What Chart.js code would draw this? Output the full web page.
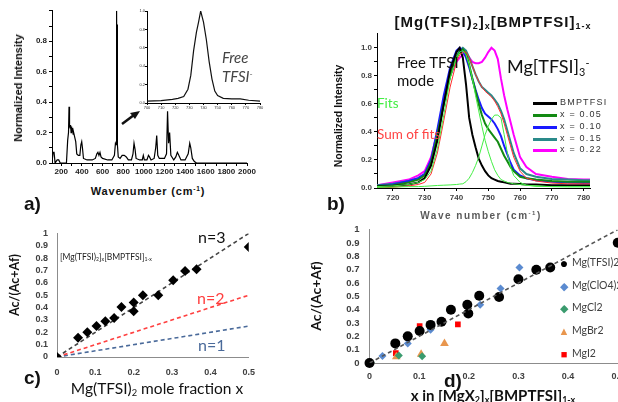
<!DOCTYPE html>
<html>
<head>
<meta charset="utf-8">
<script src="https://cdn.jsdelivr.net/npm/chart.js@4.4.0/dist/chart.umd.min.js"></script>
<style>
html, body { margin: 0; padding: 0; background: #fff; width: 618px; height: 402px; overflow: hidden; position: relative; font-family: Arial, "Liberation Sans", sans-serif; }
canvas { position: absolute; }
.t { position: absolute; white-space: nowrap; color: #111; line-height: 1; }
.c { transform: translate(-50%, -50%); }
.r { transform: translate(-50%, -50%) rotate(-90deg); }
.lato { font-family: Lato, "Open Sans", sans-serif; }
sub { font-size: 60%; vertical-align: -0.25em; }
sup { font-size: 60%; vertical-align: 0.6em; }
.pl { font: bold 19px Arial, sans-serif; }
</style>
</head>
<body>
<canvas id="chartA" width="237" height="181" style="left:22px;top:4px"></canvas>
<canvas id="chartInset" width="128" height="103" style="left:137px;top:8px"></canvas>
<canvas id="chartB" width="245" height="179" style="left:355px;top:27px"></canvas>
<canvas id="chartC" width="232" height="160" style="left:33px;top:219px"></canvas>
<canvas id="chartD" width="291" height="169" style="left:341px;top:214px"></canvas>

<!-- panel a text -->
<div class="t r" style="left:18px;top:88px;font:bold 11px Arial">Normalized Intensity</div>
<div class="t c" style="left:148px;top:191px;font:bold 11px Arial;letter-spacing:0.8px">Wavenumber (cm<sup>-1</sup>)</div>
<div class="t lato" style="left:222px;top:50px;font-style:italic;font-size:15px;color:#444">Free</div>
<div class="t lato" style="left:222px;top:69px;font-style:italic;font-size:15px;color:#444">TFSI<sup>-</sup></div>
<svg style="position:absolute;left:0;top:0" width="618" height="402">
  <line x1="122" y1="124" x2="134" y2="115" stroke="#111" stroke-width="2.5"/>
  <polygon points="140,111 130,113 135,119" fill="#111"/>
</svg>
<div class="t pl" style="left:24px;top:193px">a)</div>

<!-- panel b text -->
<div class="t c" style="left:493px;top:22px;font:bold 15px Arial;letter-spacing:1px">[Mg(TFSI)<sub>2</sub>]<sub>x</sub>[BMPTFSI]<sub>1-x</sub></div>
<div class="t r" style="left:338px;top:116px;font:bold 10.5px Arial">Normalized Intensity</div>
<div class="t c" style="left:481px;top:215px;font:bold 10px Arial;letter-spacing:1.5px;color:#5a5a5a">Wave number (cm<sup>-1</sup>)</div>
<div class="t lato" style="left:397px;top:55px;font-size:15px">Free TFSI</div>
<div class="t lato" style="left:397px;top:73px;font-size:15px">mode</div>
<div class="t lato" style="left:507px;top:57px;font-size:18px">Mg[TFSI]<sub>3</sub><sup>-</sup></div>
<div class="t lato" style="left:377px;top:97px;font-size:13.5px;color:#44ee44">Fits</div>
<div class="t lato" style="left:377px;top:128px;font-size:13.5px;color:#ff4444">Sum of fits</div>
<div id="legendB"></div>
<div class="t pl" style="left:327px;top:193px">b)</div>

<!-- panel c text -->
<div class="t r lato" style="left:15px;top:285px;font-weight:bold;font-size:12.5px">Ac/(Ac+Af)</div>
<div class="t c lato" style="left:157px;top:389px;font-size:15.5px">Mg(TFSI)<sub>2</sub> mole fraction x</div>
<div class="t lato" style="left:60px;top:253px;font-size:8.5px;color:#222">[Mg(TFSI)<sub>2</sub>]<sub>x</sub>[BMPTFSI]<sub>1-x</sub></div>
<div id="nText"></div>
<div class="t pl" style="left:24px;top:367px">c)</div>

<!-- panel d text -->
<div class="t r lato" style="left:316px;top:296px;font-weight:bold;font-size:14px">Ac/(Ac+Af)</div>
<div class="t c lato" style="left:493px;top:396px;font-weight:bold;font-size:15px">x in [MgX<sub>2</sub>]<sub>x</sub>[BMPTFSI]<sub>1-x</sub></div>
<div id="legendD"></div>
<div class="t pl" style="left:444px;top:370px">d)</div>

<script>
// ---- panel a: full spectrum of BMPTFSI ----
const specX = [110, 120, 130, 140, 160, 175, 190, 250, 262, 270, 275, 280, 285, 290, 295, 300, 305, 310, 315, 320, 330, 340, 350, 365, 380, 390, 398, 405, 415, 450, 500, 530, 545, 555, 565, 575, 585, 600, 650, 690, 715, 725, 732, 736, 740, 742, 746, 752, 770, 790, 810, 830, 850, 880, 895, 905, 915, 925, 960, 985, 995, 1005, 1030, 1045, 1055, 1070, 1100, 1115, 1125, 1135, 1150, 1200, 1220, 1230, 1240, 1250, 1262, 1290, 1310, 1325, 1340, 1360, 1400, 1430, 1445, 1455, 1470, 1490, 1510, 2000];
const specY = [0.0, 0.07, 0.07, 0.0, 0.02, 0.02, 0.0, 0.0, 0.15, 0.2, 0.37, 0.25, 0.23, 0.25, 0.2, 0.24, 0.21, 0.23, 0.19, 0.2, 0.17, 0.14, 0.06, 0.05, 0.05, 0.12, 0.14, 0.1, 0.03, 0.02, 0.02, 0.03, 0.06, 0.07, 0.05, 0.07, 0.04, 0.03, 0.02, 0.02, 0.05, 0.13, 0.12, 1.0, 0.3, 0.91, 0.12, 0.04, 0.03, 0.05, 0.05, 0.04, 0.02, 0.02, 0.06, 0.13, 0.09, 0.03, 0.02, 0.02, 0.05, 0.02, 0.02, 0.05, 0.04, 0.02, 0.03, 0.1, 0.18, 0.05, 0.03, 0.03, 0.06, 0.34, 0.13, 0.2, 0.05, 0.02, 0.04, 0.07, 0.05, 0.02, 0.02, 0.06, 0.13, 0.1, 0.03, 0.01, 0.0, 0.0];
const ticksAX = [200, 300, 400, 500, 600, 700, 800, 900, 1000, 1100, 1200, 1300, 1400, 1500, 1600, 1700, 1800, 1900, 2000];

// inset: free TFSI band
const insetX = [700, 710, 718, 722, 726, 729, 731, 733, 735, 736.5, 738, 740, 742, 744, 746, 748, 750, 754, 760, 766, 772, 780];
const insetY = [0.02, 0.025, 0.04, 0.05, 0.07, 0.15, 0.3, 0.57, 0.77, 0.88, 1.0, 0.88, 0.69, 0.45, 0.26, 0.13, 0.08, 0.05, 0.045, 0.045, 0.03, 0.02];

// ---- panel b: TFSI band vs Mg content ----
const waveB = [715, 720, 725, 728, 730, 732, 734, 736, 738, 740, 741, 742, 743, 744, 745, 746, 747, 748, 749, 750, 751, 752, 753, 754, 755, 756, 757, 758, 760, 762, 765, 770, 775, 780, 782];
const bmptfsi = [0.01, 0.015, 0.025, 0.04, 0.07, 0.16, 0.34, 0.6, 0.84, 0.97, 1.0, 0.93, 0.74, 0.5, 0.38, 0.29, 0.21, 0.16, 0.12, 0.09, 0.07, 0.06, 0.05, 0.045, 0.04, 0.035, 0.03, 0.03, 0.028, 0.025, 0.025, 0.02, 0.02, 0.02, 0.02];
const x005 = [0.015, 0.02, 0.04, 0.06, 0.09, 0.18, 0.38, 0.6, 0.8, 0.93, 0.97, 0.99, 0.96, 0.88, 0.78, 0.69, 0.6, 0.52, 0.46, 0.42, 0.39, 0.36, 0.33, 0.28, 0.23, 0.19, 0.15, 0.12, 0.08, 0.07, 0.06, 0.05, 0.045, 0.045, 0.045];
const x010 = [0.015, 0.025, 0.05, 0.07, 0.1, 0.2, 0.42, 0.66, 0.86, 0.98, 1.0, 0.98, 0.93, 0.86, 0.78, 0.7, 0.63, 0.57, 0.53, 0.51, 0.49, 0.46, 0.42, 0.37, 0.3, 0.24, 0.18, 0.13, 0.09, 0.07, 0.055, 0.045, 0.04, 0.035, 0.035];
const x015 = [0.02, 0.03, 0.05, 0.07, 0.1, 0.19, 0.38, 0.6, 0.8, 0.94, 0.98, 1.0, 0.98, 0.93, 0.87, 0.81, 0.76, 0.72, 0.7, 0.68, 0.66, 0.63, 0.6, 0.55, 0.49, 0.41, 0.33, 0.25, 0.14, 0.1, 0.08, 0.065, 0.06, 0.055, 0.055];
const x022 = [0.02, 0.04, 0.06, 0.09, 0.12, 0.22, 0.4, 0.62, 0.8, 0.9, 0.93, 0.95, 0.96, 0.93, 0.9, 0.89, 0.89, 0.9, 0.93, 0.97, 1.0, 0.98, 0.92, 0.78, 0.66, 0.56, 0.47, 0.38, 0.22, 0.15, 0.1, 0.08, 0.065, 0.06, 0.06];
const fitSum = [0.0, 0.005, 0.015, 0.025, 0.04, 0.1, 0.25, 0.48, 0.72, 0.9, 0.95, 0.97, 0.97, 0.93, 0.87, 0.81, 0.76, 0.72, 0.69, 0.67, 0.65, 0.62, 0.58, 0.53, 0.46, 0.38, 0.3, 0.22, 0.12, 0.07, 0.05, 0.035, 0.03, 0.03, 0.03];
const fitFree = [0.01, 0.015, 0.025, 0.04, 0.06, 0.12, 0.28, 0.52, 0.78, 0.93, 0.97, 0.98, 0.95, 0.88, 0.78, 0.66, 0.55, 0.44, 0.34, 0.26, 0.19, 0.13, 0.09, 0.06, 0.05, 0.04, 0.035, 0.03, 0.025, 0.02, 0.015, 0.01, 0.01, 0.01, 0.01];
const fitComplex = [0.005, 0.007, 0.01, 0.01, 0.012, 0.015, 0.018, 0.02, 0.022, 0.025, 0.028, 0.03, 0.045, 0.07, 0.11, 0.16, 0.22, 0.3, 0.38, 0.44, 0.49, 0.52, 0.52, 0.5, 0.38, 0.25, 0.15, 0.09, 0.04, 0.02, 0.012, 0.01, 0.008, 0.008, 0.008];
const ticksBX = [720, 730, 740, 750, 760, 770, 780];
const ticksBY = [0, 0.1, 0.2, 0.3, 0.4, 0.5, 0.6, 0.7, 0.8, 0.9, 1.0];
const bLabels = ['BMPTFSI', 'x = 0.05', 'x = 0.10', 'x = 0.15', 'x = 0.22'];
const bColors = ['#000000', '#138a13', '#1a1aff', '#2a8a8a', '#ff00ff'];

// ---- panel c: Ac/(Ac+Af) for Mg(TFSI)2 ----
const fracC = [0, 0.055, 0.079, 0.103, 0.126, 0.149, 0.168, 0.2, 0.2, 0.224, 0.264, 0.303, 0.334, 0.364, 0.5];
const ratioC = [0, 0.155, 0.2, 0.25, 0.29, 0.315, 0.405, 0.37, 0.44, 0.5, 0.5, 0.62, 0.695, 0.71, 0.89];
const nLabels = ['n=3', 'n=2', 'n=1'];
const nEnds = [1.0, 0.5, 0.25];   // value of each model line at x = 0.5
const nColors = ['#444444', '#ff4040', '#4a6a9a'];

// ---- panel d: several Mg salts ----
const tfsiX = [0, 0.052, 0.077, 0.101, 0.123, 0.145, 0.164, 0.197, 0.199, 0.221, 0.261, 0.3, 0.336, 0.364, 0.5];
const tfsiY = [0, 0.147, 0.2, 0.24, 0.286, 0.31, 0.4, 0.437, 0.372, 0.505, 0.495, 0.628, 0.7, 0.716, 0.902];
const clo4X = [0, 0.026, 0.077, 0.123, 0.223, 0.264, 0.302];
const clo4Y = [0, 0.053, 0.147, 0.25, 0.437, 0.558, 0.716];
const cl2X = [0.003, 0.059, 0.106];
const cl2Y = [0, 0.056, 0.05];
const br2X = [0.054, 0.104, 0.151];
const br2Y = [0.047, 0.065, 0.147];
const i2X = [0, 0.053, 0.101, 0.147, 0.178];
const i2Y = [0, 0.074, 0.277, 0.314, 0.29];
const fitLineD = [0, 1.0];   // dashed guide at x = 0 and x = 0.5
const dLabels = ['Mg(TFSI)2', 'Mg(ClO4)2', 'MgCl2', 'MgBr2', 'MgI2'];
const dColors = ['#000000', '#5b8bd0', '#3a9b6e', '#e8964e', '#ff0000'];
const dSymbols = ['\u25CF', '\u25C6', '\u25C6', '\u25B2', '\u25A0'];

Chart.defaults.font.family = 'Arial, "Liberation Sans", sans-serif';

function pts(xs, ys) {
    return xs.map((x, i) => ({ x: x, y: ys[i] }));
}

function line(xs, ys, color, width, dash) {
    return {
        data: pts(xs, ys), showLine: true, borderColor: color, borderWidth: width,
        borderDash: dash || [], pointRadius: 0, tension: 0, fill: false
    };
}

function panel(id, datasets, xScale, yScale, pad) {
    return new Chart(document.getElementById(id), {
        type: 'scatter',
        data: { datasets: datasets },
        options: {
            responsive: false,
            animation: false,
            layout: { padding: pad },
            plugins: { legend: { display: false }, tooltip: { enabled: false } },
            scales: { x: xScale, y: yScale }
        }
    });
}

// fixed tick lists (avoids chart.js dropping ticks near the bounds)
function useTicks(list) {
    return s => { s.ticks = list.map(v => ({ value: v })); };
}

// tick style for the origin-like panels a and b
function axis(opts) {
    return Object.assign({
        type: 'linear',
        grid: { display: true, drawOnChartArea: false, drawTicks: true, tickLength: 3, color: '#000' },
        border: { display: true, color: '#000', width: 1 }
    }, opts);
}

// panel a
panel('chartA', [line(specX, specY, '#000', 1.2)],
    axis({
        min: 110, max: 2000,
        afterBuildTicks: useTicks(ticksAX),
        afterFit: s => { s.height = 22; },
        ticks: { autoSkip: false, maxRotation: 0, padding: 1, color: '#222', font: { size: 8, weight: 'bold' },
            callback: v => (v % 200 === 0 ? String(v) : '') }
    }),
    axis({
        min: 0, max: 1.0,
        afterFit: s => { s.width = 30; },
        ticks: { stepSize: 0.1, autoSkip: false, padding: 2, color: '#222', font: { size: 8, weight: 'bold' },
            callback: v => (Math.round(v * 10) % 2 === 0 && v < 0.95 ? v.toFixed(1) : '') }
    }),
    { top: 6, right: 12, left: 0, bottom: 0 });

// inset
panel('chartInset', [line(insetX, insetY, '#111', 1.2)],
    axis({
        min: 700, max: 780,
        grid: { display: true, drawOnChartArea: false, tickLength: 2, color: '#000' },
        afterFit: s => { s.height = 8; },
        ticks: { stepSize: 10, autoSkip: false, maxRotation: 0, padding: 0, color: '#333', font: { size: 4 } }
    }),
    axis({
        min: 0, max: 1.0,
        grid: { display: true, drawOnChartArea: false, tickLength: 2, color: '#000' },
        afterFit: s => { s.width = 10; },
        ticks: { stepSize: 0.2, autoSkip: false, padding: 0, color: '#333', font: { size: 4 }, callback: v => v.toFixed(1) }
    }),
    { top: 3, right: 5, left: 0, bottom: 0 });

// panel b
const seriesB = [bmptfsi, x005, x010, x015, x022];
const dsB = [
    line(waveB, fitFree, '#44ee44', 1),
    line(waveB, fitComplex, '#44ee44', 1),
    line(waveB, fitSum, '#ff3030', 1)
];
seriesB.forEach((s, i) => dsB.push(line(waveB, s, bColors[i], 2)));
panel('chartB', dsB,
    axis({
        min: 715, max: 782,
        afterBuildTicks: useTicks(ticksBX),
        afterFit: s => { s.height = 18; },
        ticks: { autoSkip: false, maxRotation: 0, padding: 2, color: '#444', font: { size: 8, weight: 'bold' } }
    }),
    axis({
        min: 0, max: 1.1,
        afterBuildTicks: useTicks(ticksBY),
        afterFit: s => { s.width = 22; },
        ticks: { autoSkip: false, padding: 2, color: '#444', font: { size: 8, weight: 'bold' },
            callback: v => (Math.round(v * 10) % 2 === 0 ? v.toFixed(1) : '') }
    }),
    { top: 6, right: 10, left: 0, bottom: 0 });

// panel c / d shared axis style
function plainAxis(opts, size, pad) {
    return Object.assign({
        type: 'linear',
        grid: { display: false, drawTicks: false },
        border: { display: true, color: '#8c8c8c', width: 1 },
        ticks: { stepSize: 0.1, autoSkip: false, maxRotation: 0, padding: pad, color: '#404040', font: { size: size, weight: 'bold' },
            callback: v => String(parseFloat(v.toFixed(1))) }
    }, opts);
}

const dsC = [{
    data: pts(fracC, ratioC), pointStyle: 'rectRot', pointRadius: 5,
    backgroundColor: '#000', borderColor: '#000', borderWidth: 0
}];
nEnds.forEach((e, i) => dsC.push(line([0, 0.5], [0, e], nColors[i], 1.6, [4, 3])));
panel('chartC', dsC,
    plainAxis({ min: 0, max: 0.5, afterFit: s => { s.height = 22; } }, 9, 10),
    plainAxis({ min: 0, max: 1, afterFit: s => { s.width = 24; } }, 9, 9),
    { top: 6, right: 12, left: 0, bottom: 0 });

// panel d
const dsD = [
    line([0, 0.5], fitLineD, '#555', 1.6, [4, 3]),
    { data: pts(tfsiX, tfsiY), pointStyle: 'circle', pointRadius: 5, backgroundColor: dColors[0], borderWidth: 0, clip: false },
    { data: pts(clo4X, clo4Y), pointStyle: 'rectRot', pointRadius: 4, backgroundColor: dColors[1], borderWidth: 0 },
    { data: pts(cl2X, cl2Y), pointStyle: 'rectRot', pointRadius: 4, backgroundColor: dColors[2], borderWidth: 0 },
    { data: pts(br2X, br2Y), pointStyle: 'triangle', pointRadius: 5, backgroundColor: dColors[3], borderWidth: 0 },
    { data: pts(i2X, i2Y), pointStyle: 'rect', pointRadius: 4, backgroundColor: dColors[4], borderWidth: 0 }
];
panel('chartD', dsD,
    plainAxis({ min: 0, max: 0.5, afterFit: s => { s.height = 20; } }, 9, 8),
    plainAxis({ min: 0, max: 1, afterFit: s => { s.width = 28.5; } }, 9.5, 10),
    { top: 6, right: 14, left: 0, bottom: 0 });

// legends and labels (HTML)
let html = '';
const yB = [103, 115, 127, 139, 150];
bLabels.forEach((lab, i) => {
    html += `<div style="position:absolute;left:533px;top:${yB[i] - 1}px;width:24px;border-top:3px solid ${bColors[i]}"></div>` +
        `<div class="t" style="left:560px;top:${yB[i] - 5}px;font-size:9px;letter-spacing:1.2px;color:#333">${lab}</div>`;
});
document.getElementById('legendB').innerHTML = html;

html = '';
const nPos = [[198, 229], [197, 290], [198, 337]];
nLabels.forEach((lab, i) => {
    html += `<div class="t lato" style="left:${nPos[i][0]}px;top:${nPos[i][1]}px;font-size:16px;color:${i === 0 ? '#111' : nColors[i]}">${lab}</div>`;
});
document.getElementById('nText').innerHTML = html;

html = '';
const yD = [263, 286, 308, 331, 354];
dLabels.forEach((lab, i) => {
    const fs = i === 0 ? 14 : 11;
    html += `<div class="t c" style="left:564px;top:${yD[i]}px;font-size:${fs}px;color:${dColors[i]}">${dSymbols[i]}</div>` +
        `<div class="t lato" style="left:572px;top:${yD[i] - 6}px;font-size:10.5px;color:#404040">${lab}</div>`;
});
document.getElementById('legendD').innerHTML = html;
</script>
</body>
</html>
